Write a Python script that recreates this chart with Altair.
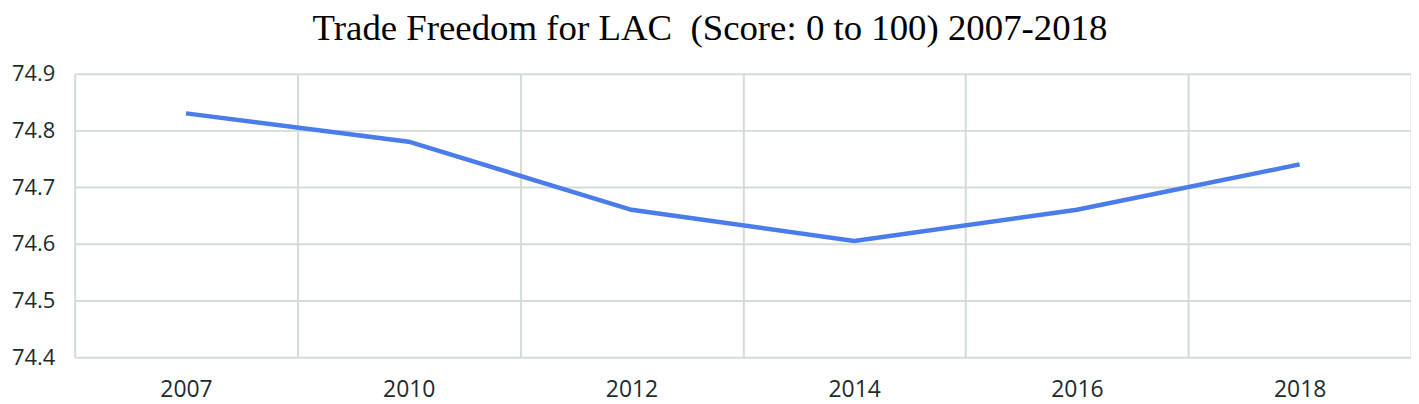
import altair as alt
import pandas as pd

years = ["2007", "2010", "2012", "2014", "2016", "2018"]
scores = [74.83, 74.78, 74.66, 74.605, 74.66, 74.74]

df = pd.DataFrame({"year": years, "score": scores})

grid_color = "#d3dbdb"
label_color = "#1d2b2b"

chart = (
    alt.Chart(df)
    .mark_line(color="#4a7ceb", strokeWidth=4.5)
    .encode(
        x=alt.X(
            "year:O",
            sort=years,
            bandPosition=0.5,
            scale=alt.Scale(type="band", paddingInner=0, paddingOuter=0),
            axis=alt.Axis(
                title=None,
                labelAngle=0,
                tickBand="extent",
                grid=True,
                gridColor=grid_color,
                gridWidth=2,
                domain=False,
                ticks=False,
                labelFont="Open Sans",
                labelFontSize=23,
                labelColor=label_color,
                labelPadding=21,
            ),
        ),
        y=alt.Y(
            "score:Q",
            scale=alt.Scale(domain=[74.4, 74.9], zero=False, nice=False),
            axis=alt.Axis(
                title=None,
                values=[74.4, 74.5, 74.6, 74.7, 74.8, 74.9],
                format=".1f",
                grid=True,
                gridColor=grid_color,
                gridWidth=2,
                domain=False,
                ticks=False,
                labelFont="Open Sans",
                labelFontSize=22,
                labelColor=label_color,
                labelPadding=20,
            ),
        ),
    )
    .properties(
        width=1343,
        height=285,
        autosize=alt.AutoSizeParams(type="none"),
        padding={"left": 67, "top": 65, "right": 0, "bottom": 46},
        title=alt.TitleParams(
            "Trade Freedom for LAC\u00a0 (Score: 0 to 100) 2007-2018",
            font="Liberation Serif",
            fontSize=37,
            fontWeight="normal",
            color="#000000",
            anchor="middle",
            dx=-33,
            offset=15,
        ),
    )
    .configure_view(stroke=None)
)

chart.save("out.html", embed_options={"renderer": "svg", "actions": False})
